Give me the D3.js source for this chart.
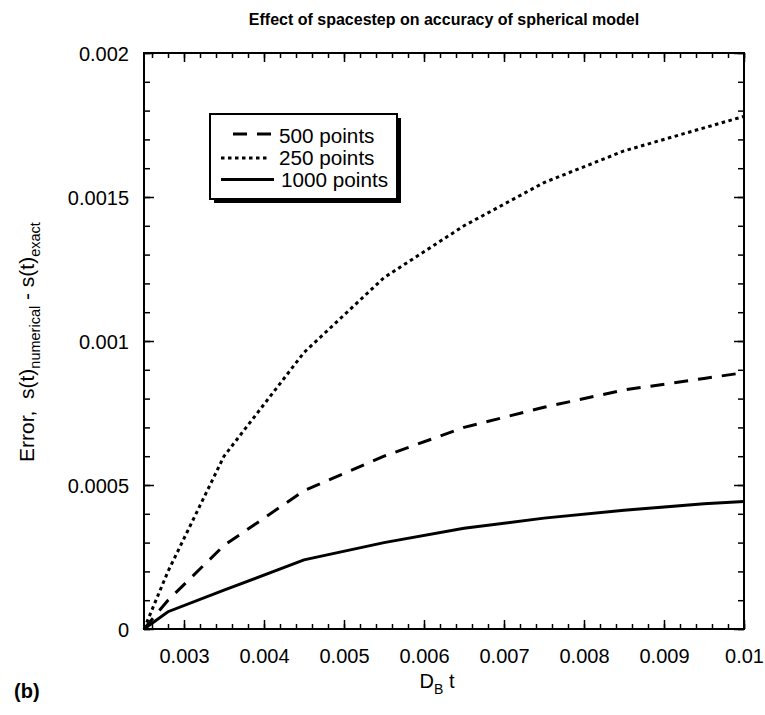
<!doctype html>
<html>
  <head>
    <style>
      body { margin: 0; background: #fff; }
      text { font-family: "Liberation Sans", Arial, Helvetica, sans-serif; fill: #000; }
    </style>
  </head>
  <body>
    <svg width="765" height="715" id="content"></svg>

    <script src="https://cdnjs.cloudflare.com/ajax/libs/d3/7.8.5/d3.min.js"></script>
    <script>
      // D_B t values where each run was sampled
      const dbt = [0.0025, 0.0028, 0.0035, 0.0045, 0.0055, 0.0065, 0.0075, 0.0085, 0.0095, 0.01]
      // error s(t)numerical - s(t)exact
      const err500 = [0, 0.0001, 0.00029, 0.00048, 0.0006, 0.0007, 0.00077, 0.00083, 0.00087, 0.00089]
      const err250 = [0, 0.0002, 0.0006, 0.00096, 0.00122, 0.0014, 0.00155, 0.00166, 0.00174, 0.00178]
      const err1000 = [0, 0.00006, 0.000135, 0.00024, 0.0003, 0.00035, 0.000385, 0.000412, 0.000435, 0.000443]

      const seriesNames = ['500 points', '250 points', '1000 points']
      const xTicks = [0.003, 0.004, 0.005, 0.006, 0.007, 0.008, 0.009, 0.01]
      const yTicks = [0, 0.0005, 0.001, 0.0015, 0.002]
      const xTickLabels = ['0.003', '0.004', '0.005', '0.006', '0.007', '0.008', '0.009', '0.01']
      const yTickLabels = ['0', '0.0005', '0.001', '0.0015', '0.002']

      const plotL = 144, plotR = 744, plotT = 53, plotB = 629

      const svg = d3.select('#content')

      const x = d3.scaleLinear().domain([0.0025, 0.01]).range([plotL, plotR])
      const y = d3.scaleLinear().domain([0, 0.002]).range([plotB, plotT])

      const xMinor = d3.range(13, 51).map(i => i * 0.0002).filter(v => v >= 0.0025 && v <= 0.01 + 1e-9)
      const yMinor = d3.range(0, 21).map(i => i * 0.0001)

      function drawAxis (axisFn, scale, values, size, transform, fmt) {
        const g = svg.append('g')
          .attr('transform', transform)
          .call(axisFn(scale).tickValues(values).tickSize(size).tickSizeOuter(0).tickFormat(fmt || ''))
        g.select('.domain').remove()
        g.selectAll('.tick line').attr('stroke', '#000').attr('stroke-width', 1.5)
        return g
      }

      // minor ticks on all four sides, pointing in
      drawAxis(d3.axisBottom, x, xMinor, -5, `translate(0,${plotB})`)
      drawAxis(d3.axisTop, x, xMinor, -5, `translate(0,${plotT})`)
      drawAxis(d3.axisLeft, y, yMinor, -6, `translate(${plotL},0)`)
      drawAxis(d3.axisRight, y, yMinor, -6, `translate(${plotR},0)`)

      // major ticks
      const xb = drawAxis(d3.axisBottom, x, xTicks, -9, `translate(0,${plotB})`, (d, i) => xTickLabels[i])
      xb.selectAll('.tick text')
        .attr('y', 0).attr('dy', 0)
        .attr('transform', 'translate(0,34)')
        .style('font-size', '20px')
        .style('font-family', '"Liberation Sans", Arial, sans-serif')
      drawAxis(d3.axisTop, x, xTicks, -9, `translate(0,${plotT})`)

      const yl = drawAxis(d3.axisLeft, y, yTicks, -10, `translate(${plotL},0)`, (d, i) => yTickLabels[i])
      yl.selectAll('.tick text')
        .attr('x', -15)
        .attr('dy', '0.36em')
        .style('font-size', '20px')
        .style('font-family', '"Liberation Sans", Arial, sans-serif')
      drawAxis(d3.axisRight, y, yTicks, -10, `translate(${plotR},0)`)

      // frame
      svg.append('rect')
        .attr('x', plotL).attr('y', plotT)
        .attr('width', plotR - plotL).attr('height', plotB - plotT)
        .attr('fill', 'none').attr('stroke', '#000').attr('stroke-width', 2)

      const line = d3.line().x(d => x(d[0])).y(d => y(d[1]))
      const dashes = ['14,10', '3.5,3.5', null]
      const allSeries = [err500, err250, err1000]

      allSeries.forEach((vals, i) => {
        svg.append('path')
          .datum(dbt.map((v, j) => [v, vals[j]]))
          .attr('d', line)
          .attr('fill', 'none')
          .attr('stroke', '#000')
          .attr('stroke-width', 3)
          .attr('stroke-dasharray', dashes[i])
      })

      // legend box with drop shadow
      const lg = svg.append('g')
      lg.append('rect')
        .attr('x', 214).attr('y', 118).attr('width', 187).attr('height', 85)
        .attr('fill', '#000')
      lg.append('rect')
        .attr('x', 210).attr('y', 114).attr('width', 187).attr('height', 85)
        .attr('fill', '#fff').attr('stroke', '#000').attr('stroke-width', 2)

      const legendRows = [
        { x1: 233, x2: 271, y: 134, tx: 279, ty: 142.5 },
        { x1: 221, x2: 268, y: 158, tx: 279, ty: 164.5 },
        { x1: 221, x2: 274, y: 179.5, tx: 281, ty: 187 }
      ]
      legendRows.forEach((r, i) => {
        lg.append('line')
          .attr('x1', r.x1).attr('x2', r.x2).attr('y1', r.y).attr('y2', r.y)
          .attr('stroke', '#000').attr('stroke-width', 3)
          .attr('stroke-dasharray', dashes[i])
        lg.append('text')
          .attr('x', r.tx).attr('y', r.ty)
          .style('font-size', '20.7px')
          .text(seriesNames[i])
      })

      // title
      svg.append('text')
        .attr('x', 444).attr('y', 25)
        .attr('text-anchor', 'middle')
        .style('font-size', '16px')
        .style('font-weight', 'bold')
        .text('Effect of spacestep on accuracy of spherical model')

      // x label
      const xl = svg.append('text')
        .attr('x', 437).attr('y', 688)
        .attr('text-anchor', 'middle')
        .style('font-size', '20px')
      xl.append('tspan').text('D')
      xl.append('tspan').attr('dy', 6).style('font-size', '14px').text('B')
      xl.append('tspan').attr('dy', -6).text(' t')

      // y label
      const ylab = svg.append('text')
        .attr('transform', 'translate(34,462) rotate(-90)')
        .style('font-size', '21px')
        .style('white-space', 'pre')
      ylab.append('tspan').text('Error,  s(t)')
      ylab.append('tspan').attr('dy', 6).style('font-size', '14.5px').text('numerical')
      ylab.append('tspan').attr('dy', -6).text(' - s(t)')
      ylab.append('tspan').attr('dy', 6).style('font-size', '14.5px').text('exact')

      // panel tag
      svg.append('text')
        .attr('x', 14).attr('y', 698)
        .style('font-size', '20px')
        .style('font-weight', 'bold')
        .text('(b)')
    </script>
  </body>
</html>
